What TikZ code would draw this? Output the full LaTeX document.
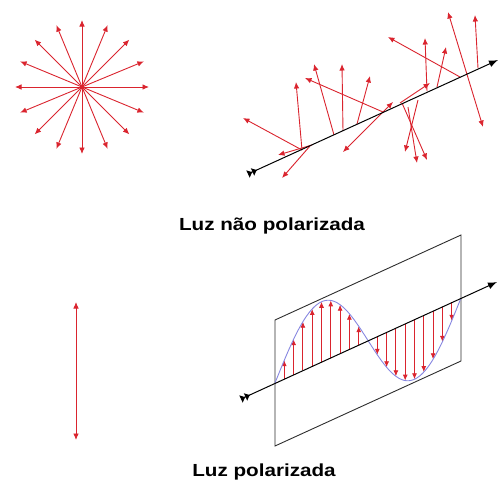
\documentclass[tikz,border=0pt]{standalone}
\usepackage{fontspec}
\setmainfont{Liberation Sans}
\usetikzlibrary{arrows.meta}
\definecolor{vred}{RGB}{218,36,46}
\definecolor{wblue}{RGB}{135,135,225}
\definecolor{planegray}{RGB}{45,45,45}
\begin{document}
\begin{tikzpicture}[x=1pt,y=-1pt,
 vec/.style={vred, line width=0.9pt, -{Latex[length=6.5pt,width=5.5pt]}},
 dvec/.style={vred, line width=0.9pt, {Latex[length=6.5pt,width=5.5pt]}-{Latex[length=6.5pt,width=5.5pt]}},
 svec/.style={vred, line width=0.9pt, -{Latex[length=6pt,width=5pt]}},
 axisline/.style={black, line width=1pt, {Latex[reversed,length=5pt,width=9pt]Latex[reversed,length=5pt,width=9pt]}-{Latex[length=9pt,width=7pt]}},
 plane/.style={planegray, line width=0.9pt},
 wave/.style={wblue, line width=0.9pt},
 lbl/.style={font=\bfseries\fontsize{17.5}{20}\selectfont, inner sep=0pt}]
\useasboundingbox (0,0) rectangle (499,482);

% unpolarized star
\coordinate (c) at (82,87);
\foreach \a in {0,22.5,...,337.5} \draw[vec] (c) -- ++(\a:67);

% unpolarized ray
\coordinate (ta) at (248,174);
\coordinate (tb) at (498,60);
\foreach \bx/\by/\tx/\ty in {302/150/243/118, 312/145/278/155, 310/146/282/178, 302/150/296/82,
  334/135/314/64, 383/112/305/78, 343/131/342/64, 357/124/370/76, 400/103/430/83,
  427/91/425/38, 437/87/446/47, 460/77/388/37, 478/68/475/15, 402/103/427/160,
  418/100/405/152, 408/107/417/163}
  \draw[vec] (\bx,\by) -- (\tx,\ty);
\draw[dvec] (343,152) -- (393,102);
\draw[dvec] (448,12) -- (483,127);
\draw[axisline] (ta) -- (tb);

% label 1
\node[lbl, anchor=base] (t1) at (272,230) {\scalebox{1.18}[1]{Luz não polarizada}};

% polarized single vector
\coordinate (p1) at (76,302);
\coordinate (p2) at (76,440);
\draw[dvec] (p1) -- (p2);

% polarized plane
\coordinate (q1) at (275,320);
\coordinate (q2) at (461,235);
\coordinate (q3) at (461,361);
\coordinate (q4) at (275,446);
\draw[plane] (q1) -- (q2) -- (q3) -- (q4) -- cycle;

% wave vectors
\foreach \k in {1,...,9,11,12,...,19} {
  \pgfmathsetmacro{\xx}{275+9.3*\k}
  \pgfmathsetmacro{\ya}{383-0.457*9.3*\k}
  \pgfmathsetmacro{\yc}{\ya-60*sin(18*\k)}
  \draw[svec] (\xx,\ya) -- (\xx,\yc);
}
\draw[wave] plot[domain=0:186, samples=90, smooth] ({275+\x}, {383-0.457*\x-60*sin(\x/186*360)});

% polarized ray
\coordinate (pa) at (241,399);
\coordinate (pb) at (497,282);
\draw[axisline] (pa) -- (pb);

% label 2
\node[lbl, anchor=base] (t2) at (264,476) {\scalebox{1.18}[1]{Luz polarizada}};
\end{tikzpicture}
\end{document}
